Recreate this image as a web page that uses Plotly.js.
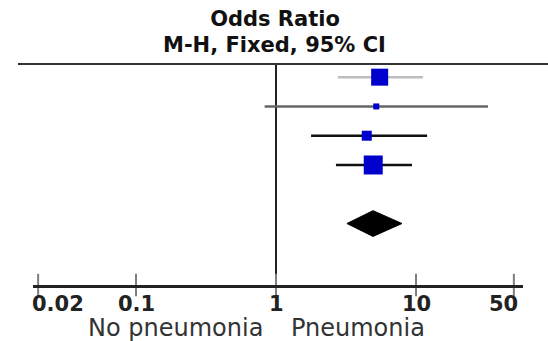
<!DOCTYPE html>
<html>
<head>
<meta charset="utf-8">
<script src="https://cdn.plot.ly/plotly-3.0.1.min.js"></script>
<style>html,body{margin:0;padding:0;background:#fff;}#chart{width:548px;height:341px;}</style>
</head>
<body>
<div id="chart"></div>
<script>
// Study rows (top to bottom)
const rows = [1, 2, 3, 4];
const oddsRatio = [5.5, 5.2, 4.45, 4.95];
const ciLow = [2.77, 0.83, 1.78, 2.68];
const ciHigh = [11.2, 32.7, 12.0, 9.36];
const ciColors = ['#bdbdbd', '#666666', '#111111', '#111111'];
const squareSize = [17, 6, 10, 19];

// Pooled estimate (diamond)
const pooledRow = 6;
const pooledOR = 4.93;
const pooledLow = 3.21;
const pooledHigh = 7.94;

// Axis ticks
const tickVals = [0.02, 0.1, 1, 10, 50];
const tickText = ['0.02', '0.1', '1', '10', '50'];

const yTop = 0.55, yAxis = 8.1;
const traces = [];

// line of no effect
traces.push({x: [1, 1], y: [yTop, yAxis], mode: 'lines', line: {color: '#222', width: 2}, hoverinfo: 'skip', showlegend: false});

// confidence intervals
rows.forEach((r, i) => {
  traces.push({x: [ciLow[i], ciHigh[i]], y: [r, r], mode: 'lines',
    line: {color: ciColors[i], width: 2.5}, hoverinfo: 'skip', showlegend: false});
});

// point estimates
traces.push({x: oddsRatio, y: rows, mode: 'markers',
  marker: {symbol: 'square', size: squareSize, color: '#0000cc', opacity: 1, line: {width: 0}},
  showlegend: false});

// pooled diamond
const dh = 0.44;
traces.push({x: [pooledLow, pooledOR, pooledHigh, pooledOR, pooledLow],
  y: [pooledRow, pooledRow - dh, pooledRow, pooledRow + dh, pooledRow],
  mode: 'lines', fill: 'toself', fillcolor: '#000', line: {color: '#000', width: 1},
  showlegend: false});

// crossing tick marks
traces.push({x: tickVals, y: tickVals.map(() => yAxis), mode: 'markers', cliponaxis: false,
  marker: {symbol: 'line-ns-open', size: 16, opacity: 1, line: {color: '#222', width: 2}},
  hoverinfo: 'skip', showlegend: false});

const L = 33, R = 25, T = 64, B = 56;
const plotW = 548 - L - R;
const labelY = (285 - 304) / 221;
const labelFont = {family: 'DejaVu Sans', weight: 'bold', size: 21, color: '#222'};

const tickAnnotations = tickVals.map((v, i) => {
  const first = i === 0, last = i === tickVals.length - 1;
  return {text: tickText[i], xref: 'x', yref: 'paper', x: Math.log10(v), y: labelY,
    xanchor: first ? 'left' : (last ? 'right' : 'center'), xshift: first ? -8 : (last ? 6 : 0),
    yanchor: 'middle', showarrow: false, font: labelFont};
});

const layout = {
  width: 548, height: 341,
  margin: {l: L, r: R, t: T, b: B, pad: 0},
  paper_bgcolor: '#fff', plot_bgcolor: '#fff',
  title: {text: 'Odds Ratio', font: {family: 'DejaVu Sans', weight: 'bold', size: 21, color: '#111'},
    x: 275 / 548, xanchor: 'center', xref: 'container', y: 1 - 19 / 341, yanchor: 'middle', yref: 'container'},
  xaxis: {type: 'log', range: [(L - 276) / 140, (548 - R - 276) / 140],
    showline: true, linecolor: '#222', linewidth: 3, ticks: '', showticklabels: false,
    tickvals: tickVals,
    showgrid: false, zeroline: false, fixedrange: true},
  yaxis: {range: [yAxis, yTop], visible: false, showgrid: false, zeroline: false, fixedrange: true},
  shapes: [
    {type: 'line', xref: 'paper', yref: 'paper', x0: (18 - L) / plotW, x1: (548 - L) / plotW, y0: 1, y1: 1,
      line: {color: '#333', width: 2}}
  ],
  annotations: tickAnnotations.concat([
    {text: 'M-H, Fixed, 95% CI', xref: 'paper', yref: 'paper', x: (274.5 - L) / plotW, y: (285 - 45) / 221,
      xanchor: 'center', yanchor: 'middle', showarrow: false,
      font: {family: 'DejaVu Sans', weight: 'bold', size: 21, color: '#111'}},
    {text: 'No pneumonia', xref: 'x', yref: 'paper', x: 0, xshift: -11, y: (285 - 328) / 221,
      xanchor: 'right', yanchor: 'middle', showarrow: false,
      font: {family: 'DejaVu Sans', size: 24, color: '#333'}},
    {text: 'Pneumonia', xref: 'x', yref: 'paper', x: 0, xshift: 13, y: (285 - 328) / 221,
      xanchor: 'left', yanchor: 'middle', showarrow: false,
      font: {family: 'DejaVu Sans', size: 24, color: '#333'}}
  ]),
  showlegend: false
};

Plotly.newPlot('chart', traces, layout, {displayModeBar: false, staticPlot: true});
</script>
</body>
</html>
